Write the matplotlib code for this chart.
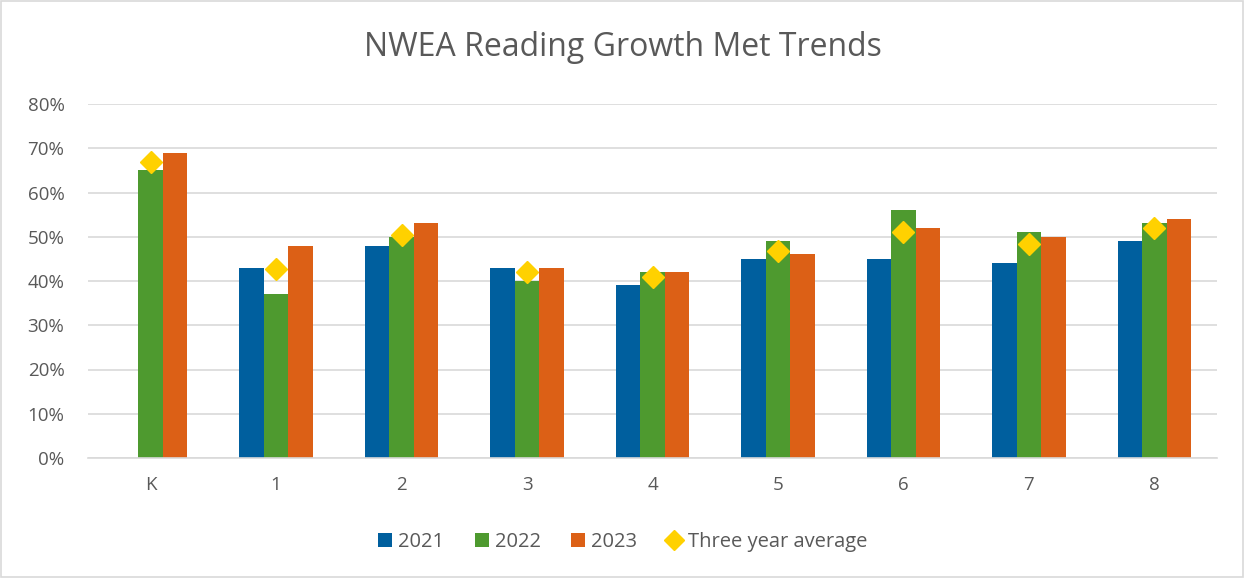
import matplotlib.pyplot as plt
from matplotlib.patches import Rectangle
import numpy as np

# datos
grados = ['K', '1', '2', '3', '4', '5', '6', '7', '8']
y2021 = [np.nan, 43, 48, 43, 39, 45, 45, 44, 49]
y2022 = [65, 37, 50, 40, 42, 49, 56, 51, 53]
y2023 = [69, 48, 53, 43, 42, 46, 52, 50, 54]
promedio = [67, 42.7, 50.3, 42, 41, 46.7, 51, 48.3, 52]

gris = '#595959'
plt.rcParams['font.family'] = ['Open Sans', 'DejaVu Sans']

fig = plt.figure(figsize=(12.45, 5.78), dpi=100)
ax = fig.add_axes([88 / 1245, 1 - 458 / 578, 1129 / 1245, 354 / 578])

x = np.arange(len(grados))
ancho = 0.195
ax.bar(x - ancho, y2021, ancho, color='#005F9E', label='2021', zorder=2)
ax.bar(x, y2022, ancho, color='#4E9A2F', label='2022', zorder=2)
ax.bar(x + ancho, y2023, ancho, color='#DC6016', label='2023', zorder=2)
ax.plot(x, promedio, linestyle='none', marker='D', markersize=11, color='#FFD100',
        label='Three year average', zorder=3)

ax.set_xlim(-0.5, len(grados) - 0.5)
ax.set_ylim(0, 80)
ax.set_yticks(range(0, 81, 10))
ax.set_yticklabels([f'{v}%' for v in range(0, 81, 10)])
ax.set_xticks(x)
ax.set_xticklabels(grados)
ax.grid(axis='y', color='#D9D9D9', linewidth=1.2, zorder=0)
for s in ['top', 'right', 'left']:
    ax.spines[s].set_visible(False)
ax.spines['bottom'].set_color('#D9D9D9')
ax.spines['bottom'].set_linewidth(1.2)
ax.tick_params(axis='both', length=0, labelsize=13.5, colors=gris)
ax.tick_params(axis='x', pad=13)
ax.tick_params(axis='y', pad=17)

fig.text(0.5, 1 - 48 / 578, 'NWEA Reading Growth Met Trends', ha='center', va='center',
         fontsize=23, color=gris)

# orden de la leyenda como en el original
h, l = ax.get_legend_handles_labels()
orden = [l.index(n) for n in ['2021', '2022', '2023', 'Three year average']]
fig.legend([h[i] for i in orden], [l[i] for i in orden], loc='center',
           bbox_to_anchor=(0.5, 1 - 542 / 578), ncol=4, frameon=False,
           fontsize=14.5, labelcolor=gris, handlelength=0.7, handleheight=0.7,
           handletextpad=0.3, columnspacing=1.5, markerscale=0.9)

# borde exterior
fig.patches.append(Rectangle((0.001, 0.002), 0.997, 0.996, transform=fig.transFigure,
                             fill=False, edgecolor='#D9D9D9', linewidth=1.2))

plt.savefig('out.png', dpi=100)
